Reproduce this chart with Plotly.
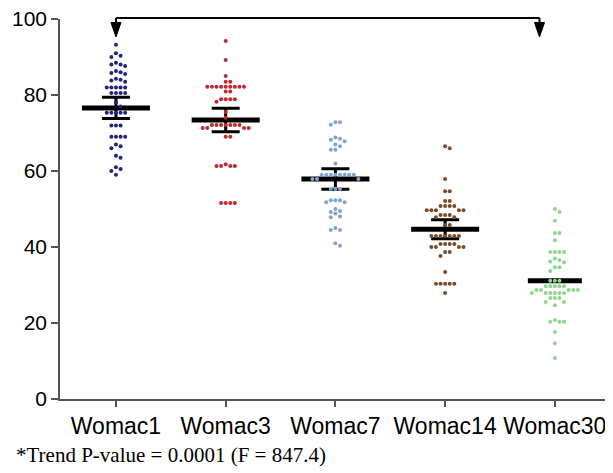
import plotly.graph_objects as go

categories = ["Womac1", "Womac3", "Womac7", "Womac14", "Womac30"]

womac1 = [93.2, 91, 90.3, 90, 88.5, 88, 88, 87.6, 86.3, 86, 85.8, 85.5,
          84.3, 84, 83.8, 83.5, 82, 82, 82, 82, 82, 80.5, 80.5, 80.5, 80.5,
          78, 77, 75.3, 75.3, 75.3, 75.3, 75.3, 72, 72, 72, 69, 69, 69, 69,
          67, 66.5, 66, 64, 63.5, 61, 60.5, 60, 59]
womac3 = [94.2, 89.2, 85, 83.5, 83.5, 82.2, 82.2, 82.2, 82.2, 82.2, 82.2,
          82.2, 82.2, 82.2, 80.9, 80.9, 78.9, 78.9, 78.9, 78.9, 78.2, 75.5,
          74, 72.1, 72.1, 72.1, 72.1, 72.1, 72.1, 72.1, 71.3, 71.3, 71.3,
          71.3, 69, 69, 61.8, 61.3, 61.3, 61.3, 61.3, 51.6, 51.6, 51.6, 51.6]
womac7 = [72.8, 72.8, 72.2, 68.8, 68.5, 68.2, 67.8, 67, 66.5, 65.6, 65.6,
          62, 59, 59, 59, 59, 59, 59, 59, 59, 57.9, 57.9, 57.9, 55.3, 55.3,
          55.3, 52.3, 52.3, 52.3, 51.8, 51.8, 50, 49.5, 49.2, 48.8, 48, 47.8,
          45, 44.5, 44.5, 41, 40.3]
womac14 = [66.5, 66, 57.9, 54.7, 54.7, 52.1, 52.1, 50.8, 50.8, 50.8, 50.8,
           49.7, 49.7, 49.7, 49.7, 49.7, 48.4, 48.4, 48.4, 47.8, 47.8, 45.8,
           45.8, 42.9, 42.9, 42.9, 42.9, 42.9, 42.9, 42.9, 40.8, 40.8, 40.8,
           40.8, 40, 40, 40, 40, 38.7, 38.7, 37.6, 33.4, 30.3, 30.3, 30.3,
           30.3, 30.3, 27.9]
womac30 = [50, 49.2, 46.9, 43.7, 43.7, 41.8, 38.7, 38.7, 38.7, 38.7, 37,
           36.6, 36.2, 36, 34.7, 34.7, 33.7, 31.1, 31.1, 31.1, 29.7, 29.7,
           29.7, 29.7, 29.7, 28.7, 28.7, 28.7, 28.7, 28.7, 27.9, 27.9, 27.9,
           27.9, 27.9, 27.9, 26.6, 26.6, 26.6, 25.5, 25.5, 24.7, 20.8, 20.3,
           20.3, 20.3, 17.6, 14.7, 10.8]
groups = [womac1, womac3, womac7, womac14, womac30]

means = [76.6, 73.4, 57.9, 44.7, 31.1]
errors = [2.8, 3.1, 2.7, 2.5, 0.0]
mean_line_px = [68, 68, 68, 68, 54]
colors = ["#23237c", "#c4282d", "#7fa5cf", "#7c4b28", "#8fd68f"]

# pixel scale of the plot (used only for beeswarm spacing)
X_RANGE = [-0.51, 4.53]
Y_RANGE = [0, 100]
PLOT_W, PLOT_H = 553, 380
px_x = PLOT_W / (X_RANGE[1] - X_RANGE[0])
px_y = PLOT_H / (Y_RANGE[1] - Y_RANGE[0])


def beeswarm(values, center, d=4.6):
    placed = []
    xs = [0.0] * len(values)
    order = sorted(range(len(values)), key=lambda i: -values[i])
    for i in order:
        yv = values[i] * px_y
        k = 0
        while True:
            cands = [0.0] if k == 0 else [k * d, -k * d]
            ok = None
            for c in cands:
                if all((c - px) ** 2 + (yv - py) ** 2 >= (d * 0.98) ** 2 for px, py in placed):
                    ok = c
                    break
            if ok is not None:
                placed.append((ok, yv))
                xs[i] = center + ok / px_x
                break
            k += 1
    return xs


fig = go.Figure()

# mean lines with error bars
for i, cat in enumerate(categories):
    fig.add_trace(go.Scatter(
        x=[i], y=[means[i]], mode="markers",
        marker=dict(symbol="line-ew", size=mean_line_px[i] / 1.4,
                    line=dict(color="black", width=5), color="black"),
        error_y=dict(type="data", array=[errors[i]], visible=errors[i] > 0,
                     color="black", thickness=3, width=14),
        showlegend=False, hoverinfo="skip"))

# points
for i, vals in enumerate(groups):
    fig.add_trace(go.Scatter(
        x=beeswarm(vals, i), y=vals, mode="markers",
        marker=dict(size=4, color=colors[i]),
        name=categories[i], showlegend=False))

# trend arrow
y_bar = 1.0026
y_tip = (Y_RANGE[1] * px_y - (37 - 19)) / PLOT_H
arrow_ends = [0, 3.86]
fig.add_shape(type="line", xref="x", yref="paper",
              x0=arrow_ends[0], x1=arrow_ends[1], y0=y_bar, y1=y_bar,
              line=dict(color="black", width=2))
hw = 5 / px_x
for xe in arrow_ends:
    fig.add_shape(type="path", xref="x", yref="paper",
                  path=f"M {xe - hw},{y_bar - 0.012} L {xe + hw},{y_bar - 0.012} L {xe},{y_tip} Z",
                  fillcolor="black", line=dict(color="black", width=1))
    fig.add_shape(type="line", xref="x", yref="paper",
                  x0=xe, x1=xe, y0=y_bar, y1=y_bar - 0.015,
                  line=dict(color="black", width=2))

# page body has an 8px margin: figure is placed at (8, 8)
OFF = 8
fig.add_annotation(text="*Trend P-value = 0.0001 (F = 847.4)",
                   xref="paper", yref="paper", x=(14 - 60) / PLOT_W, y=-0.148,
                   xanchor="left", yanchor="middle", showarrow=False,
                   font=dict(family="Liberation Serif", size=21, color="black"))

fig.update_layout(
    width=613 - OFF, height=473 - OFF,
    margin=dict(l=60 - OFF, r=0, t=19 - OFF, b=74, pad=0),
    paper_bgcolor="white", plot_bgcolor="white",
    font=dict(family="Liberation Sans, Arial", color="black"),
    xaxis=dict(range=X_RANGE, tickmode="array", tickvals=list(range(len(categories))),
               ticktext=categories, showline=True, linecolor="#555", linewidth=1.5,
               ticks="outside", ticklen=6, tickcolor="#555", tickwidth=1.5,
               showgrid=False, zeroline=False, tickfont=dict(size=23)),
    yaxis=dict(range=Y_RANGE, tickvals=[0, 20, 40, 60, 80, 100], showline=True,
               linecolor="#555", linewidth=1.5, ticks="outside", ticklen=7,
               tickcolor="#555", tickwidth=1.5, showgrid=False, zeroline=False,
               tickfont=dict(size=21), ticklabeloverflow="allow"),
)

fig.write_html("out.html")
